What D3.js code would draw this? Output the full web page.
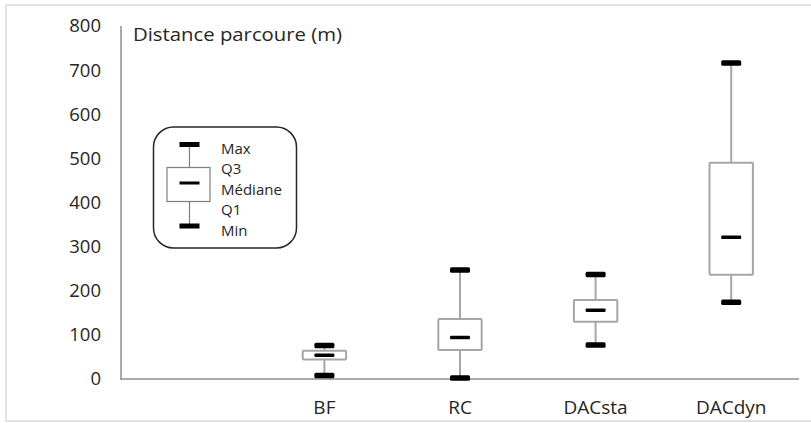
<!DOCTYPE html>
<html>
<head>
<meta charset="utf-8">
<script src="https://cdn.jsdelivr.net/npm/d3@7"></script>
<style>
  html, body { margin: 0; padding: 0; background: #fff; }
  svg { display: block; }
  text { font-family: "Open Sans", sans-serif; fill: #262626; }
</style>
</head>
<body>
<div id="chart"></div>
<script>
// ---- Data ----
const categories = ["BF", "RC", "DACsta", "DACdyn"];
const minValues    = [8, 2, 77, 174];
const q1Values     = [44, 66, 130, 236];
const medianValues = [54, 94, 156, 321];
const q3Values     = [64, 136, 179, 490];
const maxValues    = [76, 247, 237, 716];
const yTicks = [0, 100, 200, 300, 400, 500, 600, 700, 800];
const yTitle = "Distance parcoure (m)";
const legendLabels = ["Max", "Q3", "Médiane", "Q1", "Min"];

// ---- Layout ----
const W = 811, H = 423;
const svg = d3.select("#chart").append("svg").attr("width", W).attr("height", H);

// outer frame
svg.append("rect").attr("x", 6).attr("y", 5).attr("width", W + 10).attr("height", 416)
  .attr("fill", "none").attr("stroke", "#d9d9d9").attr("stroke-width", 1.5);

const y = d3.scaleLinear().domain([0, 800]).range([379, 26]);
const x = d3.scaleBand().domain([" "].concat(categories)).range([121, 799]);
const cx = c => x(c) + x.bandwidth() / 2;
const boxW = x.bandwidth() * 0.32;
const capW = 20;

// axes lines
svg.append("line").attr("x1", 121).attr("x2", 121).attr("y1", y(800)).attr("y2", y(0))
  .attr("stroke", "#8c8c8c").attr("stroke-width", 1.5);
svg.append("line").attr("x1", 120).attr("x2", 799).attr("y1", y(0)).attr("y2", y(0))
  .attr("stroke", "#8c8c8c").attr("stroke-width", 1.5);

// y tick labels
const yAxis = d3.axisLeft(y).tickValues(yTicks).tickSize(0).tickPadding(20);
const gy = svg.append("g").attr("transform", "translate(121,0)").call(yAxis);
gy.select(".domain").remove();
gy.selectAll("text").style("font-family", "'Open Sans', sans-serif").style("font-size", "18.5px").attr("fill", "#262626");

// x tick labels
const xAxis = d3.axisBottom(x).tickSize(0).tickPadding(0);
const gx = svg.append("g").attr("transform", "translate(0,400)").call(xAxis);
gx.select(".domain").remove();
gx.selectAll("text").style("font-family", "'Open Sans', sans-serif").style("font-size", "19px").attr("fill", "#262626");

// title
svg.append("text").attr("x", 133).attr("y", 41).style("font-size", "19px")
  .attr("textLength", 209).attr("lengthAdjust", "spacingAndGlyphs").text(yTitle);

// boxes
const data = categories.map((c, i) => ({
  c, min: minValues[i], q1: q1Values[i], med: medianValues[i], q3: q3Values[i], max: maxValues[i]
}));
const g = svg.append("g");
const box = g.selectAll("g.box").data(data).join("g").attr("class", "box");
// whiskers
box.append("line").attr("x1", d => cx(d.c)).attr("x2", d => cx(d.c))
  .attr("y1", d => y(d.max)).attr("y2", d => y(d.q3)).attr("stroke", "#a6a6a6").attr("stroke-width", 2);
box.append("line").attr("x1", d => cx(d.c)).attr("x2", d => cx(d.c))
  .attr("y1", d => y(d.q1)).attr("y2", d => y(d.min)).attr("stroke", "#a6a6a6").attr("stroke-width", 2);
// box
box.append("rect").attr("x", d => cx(d.c) - boxW / 2).attr("width", boxW)
  .attr("y", d => y(d.q3)).attr("height", d => y(d.q1) - y(d.q3))
  .attr("fill", "#fff").attr("stroke", "#a6a6a6").attr("stroke-width", 2).attr("rx", 1);
// median
box.append("rect").attr("x", d => cx(d.c) - capW / 2).attr("width", capW)
  .attr("y", d => y(d.med) - 1.75).attr("height", 3.5).attr("rx", 1.2).attr("fill", "#000");
// caps
box.append("rect").attr("x", d => cx(d.c) - capW / 2).attr("width", capW)
  .attr("y", d => y(d.max) - 2.75).attr("height", 5.5).attr("rx", 1.5).attr("fill", "#000");
box.append("rect").attr("x", d => cx(d.c) - capW / 2).attr("width", capW)
  .attr("y", d => y(d.min) - 2.75).attr("height", 5.5).attr("rx", 1.5).attr("fill", "#000");

// legend
const lg = svg.append("g");
lg.append("rect").attr("x", 153.5).attr("y", 127).attr("width", 143).attr("height", 121)
  .attr("rx", 20).attr("fill", "#fff").attr("stroke", "#262626").attr("stroke-width", 1.5);
const lcx = 189.5;
lg.append("line").attr("x1", lcx).attr("x2", lcx).attr("y1", 144).attr("y2", 226)
  .attr("stroke", "#7f7f7f").attr("stroke-width", 1.2);
lg.append("rect").attr("x", 167).attr("y", 167.5).attr("width", 43).attr("height", 34)
  .attr("fill", "#fff").attr("stroke", "#7f7f7f").attr("stroke-width", 1.2);
lg.append("rect").attr("x", lcx - 10).attr("y", 142).attr("width", 20).attr("height", 5).attr("fill", "#000");
lg.append("rect").attr("x", lcx - 10).attr("y", 223.5).attr("width", 20).attr("height", 5).attr("fill", "#000");
lg.append("rect").attr("x", lcx - 10).attr("y", 181.5).attr("width", 20).attr("height", 3).attr("fill", "#000");
lg.selectAll("text.leg").data(legendLabels).join("text").attr("class", "leg")
  .attr("x", 221).attr("y", (d, i) => 148.5 + i * 20.5).attr("dy", "0.35em")
  .style("font-size", "15px").text(d => d);
</script>
</body>
</html>
